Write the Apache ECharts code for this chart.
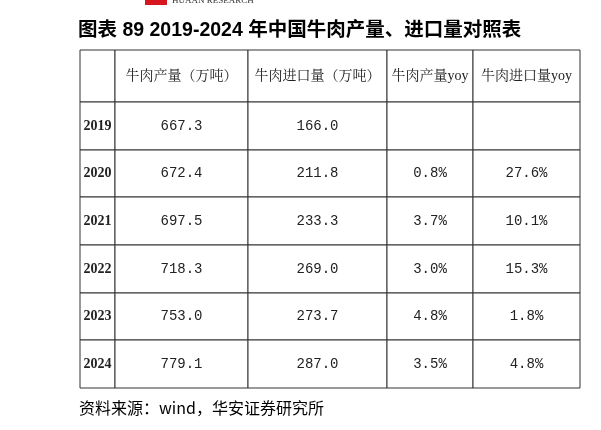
<!DOCTYPE html>
<html><head><meta charset="utf-8">
<script src="https://cdn.jsdelivr.net/npm/echarts@6/dist/echarts.min.js"></script>
<style>html,body{margin:0;padding:0;background:#fff}#c{width:601px;height:430px}</style>
</head><body><div id="c"></div>
<script>
const headers = ['', '牛肉产量（万吨）', '牛肉进口量（万吨）', '牛肉产量yoy', '牛肉进口量yoy'];
const years = ['2019','2020','2021','2022','2023','2024'];
const production = ['667.3','672.4','697.5','718.3','753.0','779.1'];
const imports = ['166.0','211.8','233.3','269.0','273.7','287.0'];
const prodYoy = ['','0.8%','3.7%','3.0%','4.8%','3.5%'];
const importYoy = ['','27.6%','10.1%','15.3%','1.8%','4.8%'];

const colEdges = [80,115,248,387,473,580];
const rowEdges = [50,102,150,197,245,293,340,388];

const cells = [];
headers.forEach((h,i)=>cells.push([i,0,h]));
years.forEach((y,r)=>{
  [y,production[r],imports[r],prodYoy[r],importYoy[r]].forEach((t,c)=>cells.push([c,r+1,t]));
});
const font = '"Liberation Serif","Noto Serif CJK SC","Noto Sans CJK SC",serif';
const numFont = '"Liberation Mono","Noto Sans CJK SC",monospace';
const chart = echarts.init(document.getElementById('c'));
chart.setOption({
  animation:false,
  backgroundColor:'#fff',
  grid:{left:0,right:0,top:0,bottom:0},
  xAxis:{type:'value',min:0,max:601,show:false},
  yAxis:{type:'value',min:0,max:430,inverse:true,show:false},
  graphic:[
    {type:'rect',shape:{x:145,y:0,width:22,height:5},style:{fill:'#d7151e'}},
    {type:'text',left:172,top:-4,style:{text:'HUAAN RESEARCH',font:'9px "Liberation Serif",serif',fill:'#333'}},
    {type:'text',left:78,top:21,style:{text:'图表 89 2019-2024 年中国牛肉产量、进口量对照表',font:'bold 19.5px "Liberation Sans","Noto Sans CJK SC",sans-serif',fill:'#000'}},
    {type:'text',left:79,top:400,style:{text:'资料来源：wind，华安证券研究所',font:'16px "Noto Sans CJK SC",sans-serif',fill:'#000'}}
  ],
  series:[{
    type:'custom',
    data:cells,
    renderItem:function(params,api){
      const c=api.value(0), r=api.value(1);
      const t=cells[params.dataIndex][2];
      const p0=api.coord([colEdges[c],rowEdges[r]]);
      const p1=api.coord([colEdges[c+1],rowEdges[r+1]]);
      const f = r===0 ? '14px '+font : (c===0 ? 'bold 14px '+font : '14px '+numFont);
      return {type:'group',children:[
        {type:'rect',shape:{x:p0[0],y:p0[1],width:p1[0]-p0[0],height:p1[1]-p0[1]},
         style:{fill:'#fff',stroke:'#333',lineWidth:1}},
        {type:'text',style:{text:t,x:(p0[0]+p1[0])/2,y:(p0[1]+p1[1])/2,align:'center',verticalAlign:'middle',
          font:f,fill:'#222'}}
      ]};
    }
  }]
});
</script></body></html>
